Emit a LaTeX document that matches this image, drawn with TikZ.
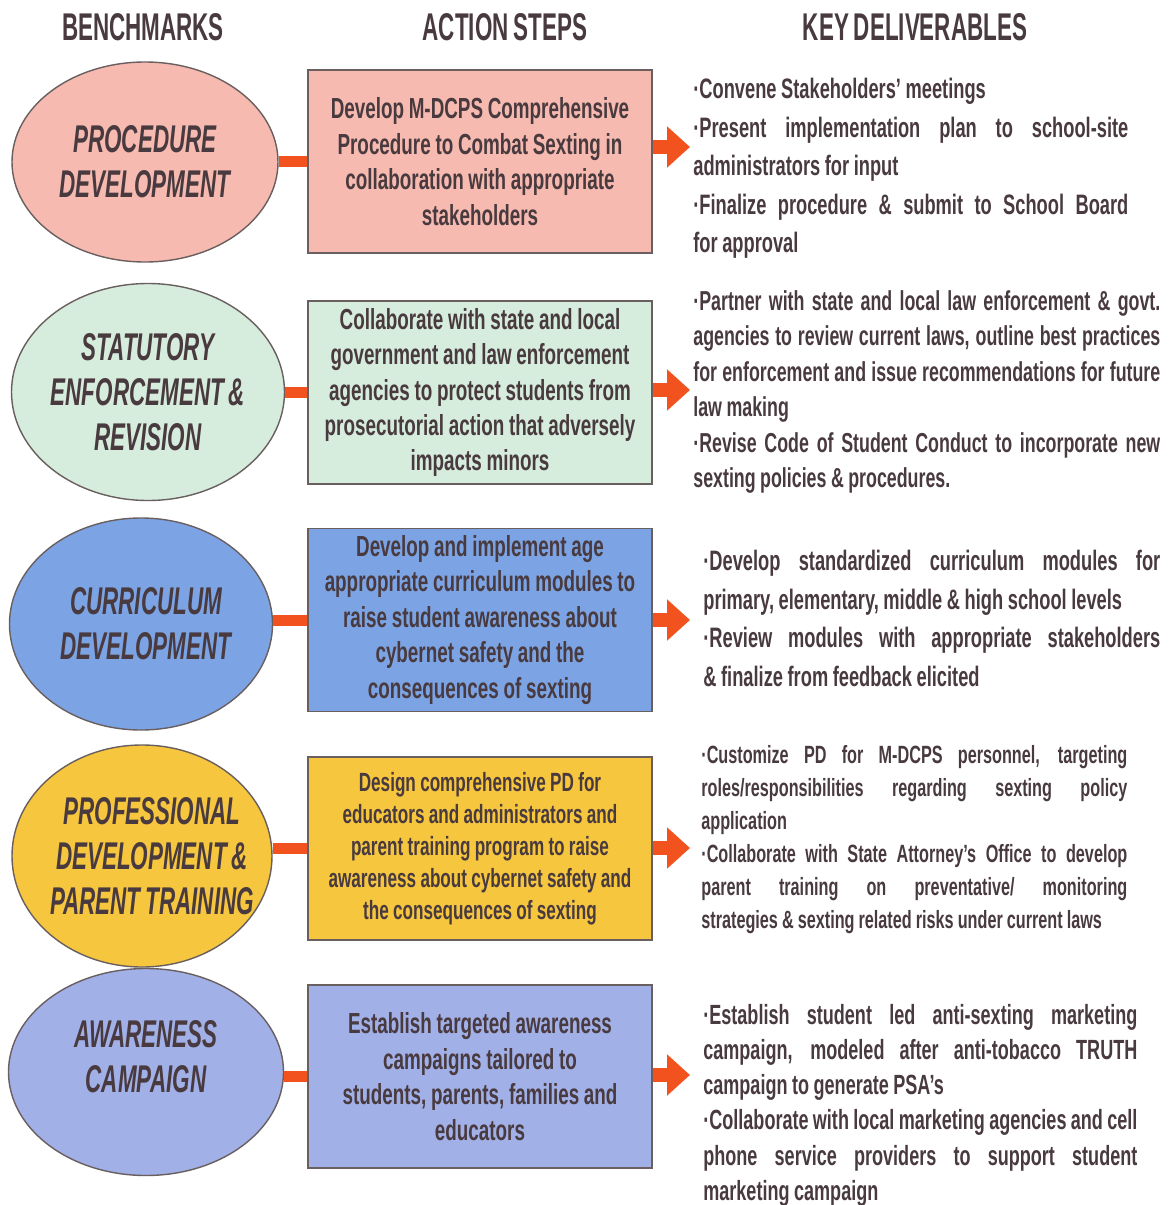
\documentclass[tikz,border=0pt]{standalone}
\usepackage{fontspec}
\setmainfont{Liberation Sans}[FakeStretch=0.65, WordSpace={0.9,1.0,1.6}]
\newfontfamily\headfont{Liberation Sans}[FakeStretch=0.58, WordSpace=0.8]
\usepackage{tikz}
\usetikzlibrary{shapes.geometric,arrows.meta,positioning}
\definecolor{planink}{RGB}{72,58,62}
\definecolor{rimgray}{RGB}{105,95,95}
\definecolor{procpink}{RGB}{246,186,176}
\definecolor{statgreen}{RGB}{214,236,221}
\definecolor{currblue}{RGB}{124,164,228}
\definecolor{profgold}{RGB}{246,198,62}
\definecolor{awareblue}{RGB}{162,176,232}
\definecolor{linkorange}{RGB}{242,82,30}
\hyphenpenalty=10000

\begin{document}
\begin{tikzpicture}[
colhead/.style={text=planink, font=\headfont\fontsize{22}{26}\selectfont\bfseries},
bench/.style={ellipse, draw=rimgray, line width=0.8pt, inner sep=0pt},
benchtext/.style={text=planink, align=center,
font=\headfont\fontsize{22}{25.6}\selectfont\bfseries\itshape},
actbox/.style={draw=rimgray, line width=0.8pt, minimum width=6.88cm,
minimum height=3.66cm, text width=6.6cm, align=flush center, text=planink,
font=\fontsize{16.5}{20.2}\selectfont\bfseries},
deliv/.style={anchor=north west, inner sep=0pt, align=justify, text=planink,
font=\fontsize{16}{21.9}\selectfont\bfseries},
link/.style={draw=linkorange, line width=0.22cm},
outarrow/.style={draw=linkorange, line width=0.28cm,
-{Triangle[length=0.46cm,width=0.8cm]}}
]
\useasboundingbox (0,0) rectangle (23.38,-24.10);

\node[colhead] (hbench) at (2.86,-0.54) {BENCHMARKS};
\node[colhead] (hstep) at (10.10,-0.54) {ACTION STEPS};
\node[colhead] (hdeliv) at (18.30,-0.54) {KEY DELIVERABLES};

\node[bench, fill=procpink, minimum width=5.32cm, minimum height=4.0cm,
label={[benchtext]center:PROCEDURE\\DEVELOPMENT}] (e1) at (2.90,-3.24) {};
\node[bench, fill=statgreen, minimum width=5.46cm, minimum height=4.34cm,
label={[benchtext]center:STATUTORY\\ENFORCEMENT \&\\REVISION}] (e2) at (2.96,-7.84) {};
\node[bench, fill=currblue, minimum width=5.26cm, minimum height=4.24cm,
label={[benchtext, xshift=0.1cm]center:CURRICULUM\\DEVELOPMENT}] (e3) at (2.82,-12.48) {};
\node[bench, fill=profgold, minimum width=5.2cm, minimum height=4.44cm,
label={[benchtext, xshift=0.2cm]center:PROFESSIONAL\\DEVELOPMENT \&\\PARENT TRAINING}] (e4) at (2.84,-17.12) {};
\node[bench, fill=awareblue, minimum width=5.5cm, minimum height=4.14cm,
label={[benchtext, yshift=0.3cm]center:AWARENESS\\CAMPAIGN}] (e5) at (2.92,-21.44) {};

\node[actbox, fill=procpink] (r1) at (9.60,-3.23)
{Develop M-DCPS Comprehensive\\Procedure to Combat Sexting in\\collaboration with appropriate\\stakeholders};
\node[actbox, fill=statgreen] (r2) at (9.60,-7.85)
{Collaborate with state and local\\government and law enforcement\\agencies to protect students from\\prosecutorial action that adversely\\impacts minors};
\node[actbox, fill=currblue] (r3) at (9.60,-12.40)
{Develop and implement age\\appropriate curriculum modules to\\raise student awareness about\\cybernet safety and the\\consequences of sexting};
\node[actbox, fill=profgold, font=\fontsize{15}{18.2}\selectfont\bfseries] (r4) at (9.60,-16.97)
{Design comprehensive PD for\\educators and administrators and\\parent training program to raise\\awareness about cybernet safety and\\the consequences of sexting};
\node[actbox, fill=awareblue] (r5) at (9.60,-21.53)
{Establish targeted awareness\\campaigns tailored to\\students, parents, families and\\educators};

\draw[link] (e1.east |- r1.west) -- (r1.west);
\draw[link] (e2.east |- r2.west) -- (r2.west);
\draw[link] (e3.east |- r3.west) -- (r3.west);
\draw[link] (e4.east |- r4.west) -- (r4.west);
\draw[link] (e5.east |- r5.west) -- (r5.west);

\coordinate (tip1) at (13.80,-2.94);
\coordinate (tip2) at (13.80,-7.80);
\coordinate (tip3) at (13.80,-12.40);
\coordinate (tip4) at (13.80,-16.96);
\coordinate (tip5) at (13.80,-21.50);
\draw[outarrow] (r1.east |- tip1) -- (tip1);
\draw[outarrow] (r2.east |- tip2) -- (tip2);
\draw[outarrow] (r3.east |- tip3) -- (tip3);
\draw[outarrow] (r4.east |- tip4) -- (tip4);
\draw[outarrow] (r5.east |- tip5) -- (tip5);

\node[deliv, text width=8.70cm] (d1) at (13.86,-1.56)
{·Convene Stakeholders' meetings\\
·Present implementation plan to school-site\linebreak administrators for input\\
·Finalize procedure \& submit to School Board\linebreak for approval};
\node[deliv, text width=9.34cm, font=\fontsize{15.6}{20.2}\selectfont\bfseries] (d2) at (13.86,-5.80)
{·Partner with state and local law enforcement \& govt.\linebreak agencies to review current laws, outline best practices\linebreak for enforcement and issue recommendations for future\linebreak law making\\
·Revise Code of Student Conduct to incorporate new\linebreak sexting policies \& procedures.};
\node[deliv, text width=9.14cm] (d3) at (14.06,-11.00)
{·Develop standardized curriculum modules for\linebreak primary, elementary, middle \& high school levels\\
·Review modules with appropriate stakeholders\linebreak \& finalize from feedback elicited};
\node[deliv, text width=8.52cm, font=\fontsize{14.2}{18.8}\selectfont\bfseries] (d4) at (14.02,-14.90)
{·Customize PD for M-DCPS personnel, targeting\linebreak roles/responsibilities regarding sexting policy\linebreak application\\
·Collaborate with State Attorney's Office to develop\linebreak parent training on preventative/ monitoring\linebreak strategies \& sexting related risks under current laws};
\node[deliv, text width=8.68cm, font=\fontsize{15.8}{20}\selectfont\bfseries] (d5) at (14.06,-20.08)
{·Establish student led anti-sexting marketing\linebreak campaign, modeled after anti-tobacco TRUTH\linebreak campaign to generate PSA's\\
·Collaborate with local marketing agencies and cell\linebreak phone service providers to support student\linebreak marketing campaign};

\end{tikzpicture}
\end{document}
